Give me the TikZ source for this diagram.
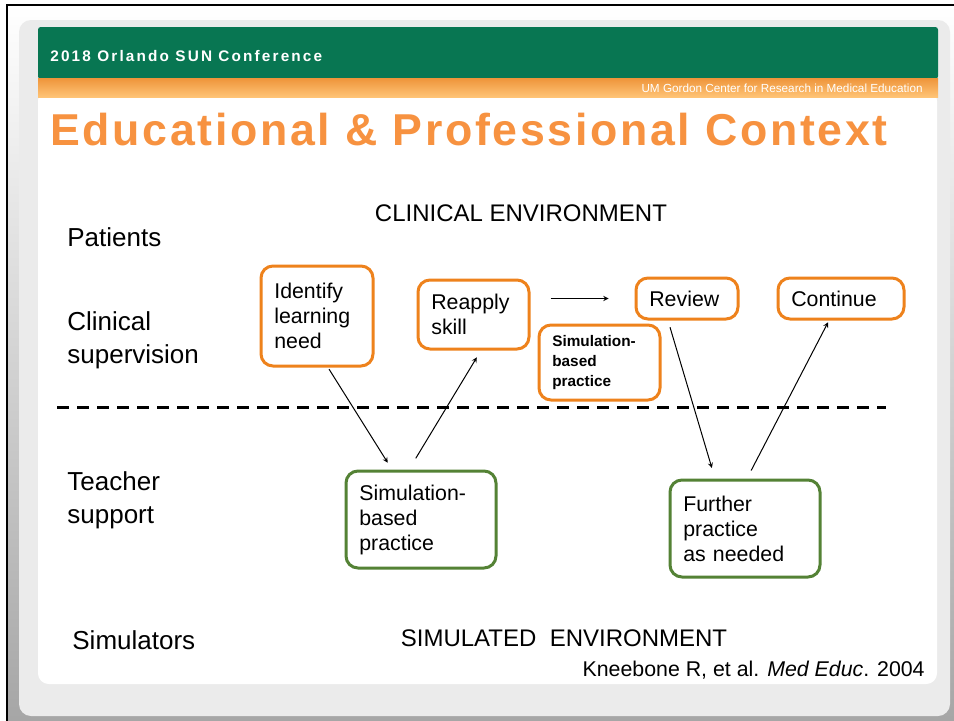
\documentclass[tikz,border=0pt]{standalone}
\usepackage{fontspec}
\setmainfont{Liberation Sans}
\newfontfamily\titlefont[LetterSpace=6]{Liberation Sans}
\newfontfamily\bannerfont[LetterSpace=14]{Liberation Sans}
\usetikzlibrary{positioning}
\usetikzlibrary{arrows}
\definecolor{boxorange}{RGB}{238,130,28}
\definecolor{boxgreen}{RGB}{84,130,53}
\definecolor{titleorange}{RGB}{247,146,64}
\definecolor{bannergreen}{RGB}{8,118,82}
\definecolor{bandtop}{RGB}{238,148,58}
\definecolor{bandbottom}{RGB}{255,196,118}
\definecolor{panelgray}{RGB}{235,235,235}

\begin{document}
\begin{tikzpicture}[
            x = 0.75pt, y = -0.75pt, % one unit per screen pixel, y runs down
            > = stealth, % arrow head style
            semithick % line style
        ]

        \tikzstyle{orangebox}=[
            draw = boxorange,
            line width = 2.25pt,
            rounded corners = 9pt,
            fill = white,
            inner xsep = 10pt,
            align = left,
            font = \fontsize{16}{18.75}\selectfont
        ]
        \tikzstyle{greenbox}=[orangebox, draw = boxgreen]
        \tikzstyle{rowlabel}=[anchor = west, align = left, inner sep = 0pt,
            font = \fontsize{19.5}{24.75}\selectfont]
        \tikzstyle{envlabel}=[anchor = base, inner sep = 0pt,
            font = \fontsize{18}{21}\selectfont]
        \tikzstyle{link}=[->, line width = 0.75pt]

        \useasboundingbox (0,0) rectangle (954,721);

	% slide frame
        \shade[top color = white, middle color = white, bottom color = gray!70] (7,5) rectangle (954,721);
        \draw[line width = 1.5pt] (7,721) -- (7,5) -- (954,5);
        \fill[panelgray, rounded corners = 9pt] (19,20) rectangle (950,716);
        \fill[white, rounded corners = 8pt] (38,90) rectangle (937,684);
        \fill[bannergreen, rounded corners = 2pt] (38,27) rectangle (938,79);
        \shade[top color = bandtop, bottom color = bandbottom] (38,78) rectangle (938,97);

        \node[anchor = base west, inner sep = 0pt, text = white,
            font = \bannerfont\bfseries\fontsize{11.5}{13}\selectfont] (conf) at (50,61) {2018 Orlando SUN Conference};
        \node[anchor = base east, inner sep = 0pt, text = white,
            font = \fontsize{8.8}{10}\selectfont] (gordon) at (923,92) {UM Gordon Center for Research in Medical Education};
        \node[anchor = base west, inner sep = 0pt, text = titleorange,
            font = \titlefont\bfseries\fontsize{33.5}{40}\selectfont] (title) at (50,145) {Educational \& Professional Context};

	% row labels
        \node[envlabel] (clinenv) at (521,221) {CLINICAL ENVIRONMENT};
        \node[rowlabel, anchor = base west] (patients) at (67,246) {Patients};
        \node[rowlabel] (supervision) at (67,340) {Clinical\\supervision};
        \node[rowlabel] (teacher) at (67,500.5) {Teacher\\support};
        \node[rowlabel, anchor = base west] (simulators) at (72,649) {Simulators};
        \node[envlabel] (simenv) at (564,646) {SIMULATED\ \ ENVIRONMENT};
        \node[anchor = base east, inner sep = 0pt,
            font = \fontsize{16}{19}\selectfont] (cite) at (925,676) {Kneebone R, et al. \textit{Med Educ}. 2004};

        \draw[dashed, line width = 2.25pt, dash pattern = on 9pt off 6pt] (57,407) -- (886,407);

	% clinical level
        \node[orangebox, text width = 64pt, minimum height = 75pt] (need) at (317,316) {Identify\\learning\\need};
        \node[orangebox, text width = 63.25pt, minimum height = 51.75pt] (reapply) at (473.5,314.5) {Reapply\\skill};
        \node[orangebox, text width = 56.5pt, minimum height = 30.75pt] (review) at (687,298.5) {Review};
        \node[orangebox, text width = 74.5pt, minimum height = 30.75pt] (continue) at (841,298.5) {Continue};
        \node[orangebox, text width = 70.75pt, minimum height = 56.25pt,
            font = \bfseries\fontsize{11.5}{15}\selectfont] (simnote) at (599.5,362.5) {Simulation-\\based\\practice};

	% teacher level
        \node[greenbox, text width = 92.5pt, minimum height = 72.75pt] (simpractice) at (421,519.5) {Simulation-\\based\\practice};
        \node[greenbox, text width = 92.5pt, minimum height = 72.75pt] (further) at (745,528.5) {Further\\practice\\as needed};

        \path[link] ([xshift = 8.25pt]need.south) edge[shorten <= 1.5pt, shorten >= 6pt] ([xshift = -21.75pt]simpractice.north);
        \path[link] ([xshift = -9pt]simpractice.north) edge[shorten <= 9.75pt, shorten >= 6pt] ([xshift = 5.6pt]reapply.south);
        \path[link] (reapply.east |- review.west) edge[shorten <= 15pt, shorten >= 19.5pt] (review.west);
        \path[link] ([xshift = -14.25pt]review.south) edge[shorten <= 5.25pt, shorten >= 8.25pt] ([xshift = -22.5pt]further.north);
        \path[link] ([xshift = 1.5pt]further.north) edge[shorten <= 6.75pt, shorten >= 1.5pt] ([xshift = -9pt]continue.south);

  \end{tikzpicture}
\end{document}
